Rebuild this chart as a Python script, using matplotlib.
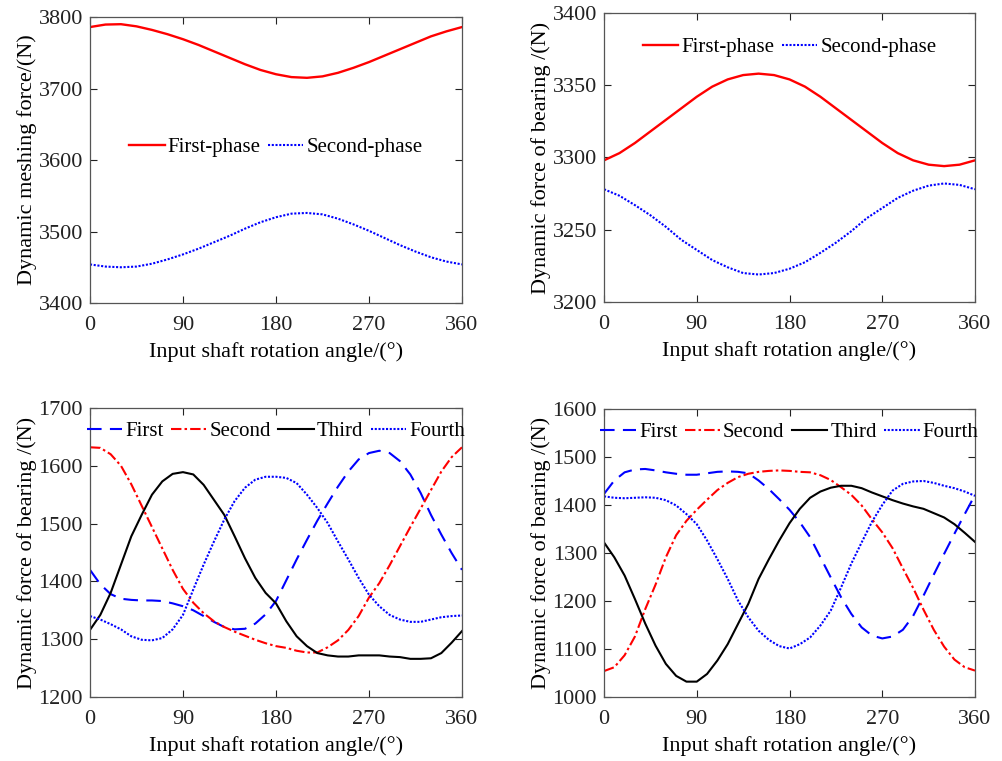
"""Dynamic meshing / bearing forces vs input shaft angle (2x2 panels)."""
import numpy as np
import matplotlib
matplotlib.use("Agg")
import matplotlib.pyplot as plt

plt.rcParams["font.family"] = ["Liberation Serif", "DejaVu Serif"]

# angles
ang15 = list(range(0, 361, 15))
ang10 = list(range(0, 361, 10))

# (a) dynamic meshing force
mesh_first = [3786, 3789.5, 3790, 3787, 3782, 3776, 3769, 3761, 3752, 3743, 3734, 3726, 3720,
              3716, 3715, 3717, 3722, 3729, 3737, 3746, 3755, 3764, 3773, 3780, 3786]
mesh_second = [3454, 3451, 3450, 3451, 3455, 3461, 3468, 3476, 3485, 3494, 3504, 3513, 3520,
               3525, 3526, 3524, 3518, 3510, 3501, 3491, 3481, 3472, 3464, 3458, 3454]

# (b) bearing force, two phases
brg_first = [3298, 3303, 3310, 3318, 3326, 3334, 3342, 3349, 3354, 3357, 3358, 3357, 3354,
             3349, 3342, 3334, 3326, 3318, 3310, 3303, 3298, 3295, 3294, 3295, 3298]
brg_second = [3278, 3273.5, 3267, 3260, 3252, 3243, 3236, 3229, 3224, 3220, 3219, 3220, 3223,
              3227.5, 3234, 3241, 3249, 3258, 3265, 3272, 3277, 3280.5, 3282, 3281, 3278]

# (c) bearing force, four planets (set 1)
c_first = [1420, 1395, 1378, 1370, 1368, 1367, 1367, 1366, 1362, 1357, 1350, 1340, 1330, 1321,
           1317, 1318, 1327, 1343, 1366, 1402, 1438, 1472, 1505, 1535, 1564, 1590, 1611, 1622,
           1626, 1622, 1608, 1585, 1553, 1515, 1481, 1449, 1420]
c_second = [1632, 1631, 1620, 1600, 1568, 1531, 1494, 1457, 1420, 1387, 1363, 1345, 1331, 1321,
            1313, 1306, 1299, 1293, 1288, 1285, 1280, 1277, 1277, 1286, 1298, 1316, 1340, 1372,
            1397, 1428, 1461, 1494, 1526, 1558, 1590, 1615, 1632]
c_third = [1316, 1342, 1380, 1429, 1478, 1515, 1550, 1573, 1586, 1589, 1585, 1567, 1541, 1515,
           1478, 1440, 1406, 1380, 1362, 1331, 1305, 1288, 1276, 1272, 1270, 1270, 1272, 1272,
           1272, 1270, 1269, 1266, 1266, 1267, 1276, 1294, 1314]
c_fourth = [1340, 1334, 1326, 1317, 1305, 1299, 1298, 1302, 1317, 1342, 1386, 1429, 1469, 1507,
            1539, 1562, 1576, 1581, 1581, 1579, 1570, 1550, 1527, 1501, 1469, 1438, 1406, 1377,
            1357, 1342, 1334, 1330, 1330, 1334, 1338, 1340, 1341]

# (d) bearing force, four planets (set 2)
d_first = [1423, 1451, 1468, 1474, 1475, 1472, 1468, 1465, 1463, 1463, 1466, 1469, 1470, 1469,
           1466, 1451, 1433, 1412, 1390, 1364, 1333, 1291, 1249, 1208, 1173, 1145, 1128, 1122,
           1126, 1140, 1169, 1211, 1255, 1298, 1340, 1381, 1421]
d_second = [1054, 1062, 1087, 1126, 1183, 1234, 1291, 1337, 1367, 1390, 1411, 1431, 1446, 1458,
            1465, 1469, 1471, 1472, 1471, 1469, 1468, 1462, 1452, 1437, 1421, 1399, 1370, 1343,
            1310, 1268, 1227, 1182, 1140, 1105, 1078, 1062, 1055]
d_third = [1322, 1291, 1253, 1204, 1153, 1107, 1069, 1044, 1032, 1032, 1048, 1076, 1110, 1152,
           1194, 1246, 1287, 1326, 1362, 1392, 1415, 1428, 1436, 1440, 1440, 1435, 1426, 1418,
           1410, 1403, 1397, 1392, 1383, 1374, 1360, 1342, 1323]
d_fourth = [1418, 1415, 1414, 1415, 1416, 1415, 1410, 1399, 1381, 1360, 1326, 1287, 1246, 1201,
            1166, 1138, 1119, 1106, 1101, 1110, 1124, 1149, 1180, 1228, 1278, 1322, 1365, 1400,
            1430, 1444, 1449, 1450, 1446, 1440, 1435, 1428, 1419]

RED = "#ff0000"
BLUE = "#0000ff"
FS_TICK = 16
FS_LAB = 16
FS_LEG = 15
XLABEL = "Input shaft rotation angle/(°)"


def style(ax, ylim, ystep, ylabel):
    ax.set_xlim(0, 360)
    ax.set_ylim(*ylim)
    ax.set_xticks([0, 90, 180, 270, 360])
    ax.set_yticks(np.arange(ylim[0], ylim[1] + 1, ystep))
    ax.tick_params(direction="in", top=True, right=True, length=5, width=0.8,
                   labelsize=FS_TICK, colors="#222222")
    ax.tick_params(axis="x", pad=9.5)
    ax.tick_params(axis="y", pad=5)
    for s in ax.spines.values():
        s.set_color("#555555")
        s.set_linewidth(0.9)
    ax.set_xlabel(XLABEL, fontsize=FS_LAB, labelpad=5)
    ax.set_ylabel(ylabel, fontsize=FS_LAB, labelpad=1)


def legend(ax, ncol, y):
    ax.legend(loc="center", bbox_to_anchor=(0.5, y), ncol=ncol, frameon=False,
              fontsize=FS_LEG, handlelength=1.7, handletextpad=0.15,
              columnspacing=0.35, borderaxespad=0)


fig = plt.figure(figsize=(10.03, 7.61), dpi=100)
ax1 = fig.add_axes([0.0897, 0.6018, 0.3709, 0.3758])
ax2 = fig.add_axes([0.6022, 0.6032, 0.3699, 0.3798])
ax3 = fig.add_axes([0.0897, 0.0841, 0.3709, 0.3798])
ax4 = fig.add_axes([0.6022, 0.0841, 0.3699, 0.3785])

# top-left
ax1.plot(ang15, mesh_first, color=RED, lw=1.7, label="First-phase")
ax1.plot(ang15, mesh_second, color=BLUE, lw=1.5, ls=(0, (1, 0.8)), label="Second-phase")
style(ax1, (3400, 3800), 100, "Dynamic meshing force/(N)")
legend(ax1, 2, 0.545)

# top-right
ax2.plot(ang15, brg_first, color=RED, lw=1.7, label="First-phase")
ax2.plot(ang15, brg_second, color=BLUE, lw=1.5, ls=(0, (1, 0.8)), label="Second-phase")
style(ax2, (3200, 3400), 50, "Dynamic force of bearing /(N)")
legend(ax2, 2, 0.88)

# bottom panels
for ax, f1, f2, f3, f4, ylim in [(ax3, c_first, c_second, c_third, c_fourth, (1200, 1700)),
                                 (ax4, d_first, d_second, d_third, d_fourth, (1000, 1600))]:
    ax.plot(ang10, f1, color=BLUE, lw=1.5, ls=(0, (7, 4)), label="First")
    ax.plot(ang10, f2, color=RED, lw=1.5, ls=(0, (5, 1.5, 1.2, 1.5)), label="Second")
    ax.plot(ang10, f3, color="black", lw=1.5, ls="-", label="Third")
    ax.plot(ang10, f4, color=BLUE, lw=1.5, ls=(0, (1, 0.8)), label="Fourth")
    style(ax, ylim, 100, "Dynamic force of bearing /(N)")
    legend(ax, 4, 0.92)

fig.savefig("out.png", dpi=100)
